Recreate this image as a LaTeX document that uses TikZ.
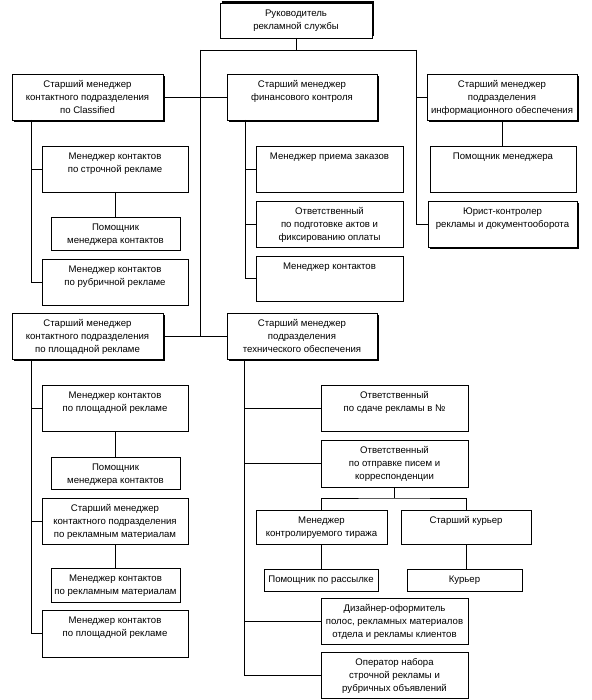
\documentclass[tikz,border=0pt]{standalone}
\usepackage{fontspec}
\setmainfont{Liberation Sans}
\usetikzlibrary{shadows}
\tikzset{
  bx/.style={draw, fill=white, line width=0.75pt, inner sep=0pt, outer sep=0pt,
    font=\fontsize{9.6}{12.8}\selectfont},
  shd/.style={drop shadow={shadow xshift=1.6pt, shadow yshift=-1.6pt, fill=black, opacity=1}},
  shdup/.style={drop shadow={shadow xshift=1.6pt, shadow yshift=1.6pt, fill=black, opacity=1}},
  ln/.style={line width=0.75pt}
}
\newcommand\bx[7][]{\node[bx,anchor=north west,#1] (#2) at (#3,#4)
  {\parbox[c][\dimexpr#6pt-#4pt\relax][t]{\dimexpr#5pt-#3pt\relax}{\centering\vspace*{4.5pt}\strut#7\par}};}
\begin{document}
\begin{tikzpicture}[x=1pt,y=-1pt]
\useasboundingbox (0,0) rectangle (591,700);
% top level
\bx[shdup]{top}{220}{3}{372}{38}{Руководитель\\рекламной службы}
\bx[shd]{classif}{12}{74}{163}{120}{Старший менеджер\\контактного подразделения\\по Classified}
\bx[shd]{fin}{227}{74}{377}{120}{Старший менеджер\\финансового контроля}
\bx[shd]{info}{427}{74}{577}{120}{Старший менеджер\\подразделения\\информационного обеспечения}
\bx{pom}{430}{146}{576}{192}{Помощник менеджера}
\bx[shd]{jur}{428}{201}{577}{247}{Юрист-контролер\\рекламы и документооборота}
\bx{stroch}{42}{146}{188}{192}{Менеджер контактов\\по строчной рекламе}
\bx{pomkA}{51}{217}{180}{250}{Помощник\\менеджера контактов}
\bx{rubr}{42}{259}{188}{305}{Менеджер контактов\\по рубричной рекламе}
\bx{priem}{256}{146}{403}{192}{Менеджер приема заказов}
\bx{akt}{256}{201}{403}{247}{Ответственный\\по подготовке актов и\\фиксированию оплаты}
\bx{mk}{256}{256}{403}{301}{Менеджер контактов}
\bx[shd]{plosh}{12}{313}{163}{359}{Старший менеджер\\контактного подразделения\\по площадной рекламе}
\bx[shd]{tech}{227}{313}{377}{359}{Старший менеджер\\подразделения\\технического обеспечения}
\bx{mkpA}{42}{385}{188}{431}{Менеджер контактов\\по площадной рекламе}
\bx{pomkB}{51}{457}{180}{489}{Помощник\\менеджера контактов}
\bx{smrm}{42}{498}{188}{544}{Старший менеджер\\контактного подразделения\\по рекламным материалам}
\bx{mkrm}{51}{568}{180}{602}{Менеджер контактов\\по рекламным материалам}
\bx{mkpB}{42}{610}{188}{657}{Менеджер контактов\\по площадной рекламе}
\bx{sdacha}{321}{385}{468}{431}{Ответственный\\по сдаче рекламы в №}
\bx{otpr}{321}{440}{468}{487}{Ответственный\\по отправке писем и\\корреспонденции}
\bx{tir}{256}{510}{387}{544}{Менеджер\\контролируемого тиража}
\bx{stkur}{401}{510}{531}{544}{Старший курьер}
\bx{pras}{264}{569}{378}{591}{Помощник по рассылке}
\bx{kur}{407}{569}{522}{591}{Курьер}
\bx{diz}{321}{598}{468}{644}{Дизайнер-оформитель\\полос, рекламных материалов\\отдела и рекламы клиентов}
\bx{oper}{321}{652}{468}{698}{Оператор набора\\строчной рекламы и\\рубричных объявлений}
% connectors
\coordinate (busL) at (200,50);
\coordinate (busR) at (416,50);
\draw[ln] (busL) -- (busR);
\draw[ln] (top.south) -- (top.south |- busL);
\draw[ln] (busL) |- (plosh.east);
\draw[ln] (plosh.east) -- (tech.west);
\draw[ln] (classif.east) -- (fin.west);
\draw[ln] (busR) |- (jur.west);
\draw[ln] (busR |- info.west) -- (info.west);
\draw[ln] (info.south) -- (info.south |- pom.north);
% classified branch
\coordinate (cA) at ([xshift=19pt]classif.south west);
\draw[ln] (cA) |- (rubr.west);
\draw[ln] (cA |- stroch.west) -- (stroch.west);
\draw[ln] (stroch.south) -- (stroch.south |- pomkA.north);
% finance branch
\coordinate (cB) at ([xshift=18pt]fin.south west);
\draw[ln] (cB) |- (mk.west);
\draw[ln] (cB |- priem.west) -- (priem.west);
\draw[ln] (cB |- akt.west) -- (akt.west);
% plosh branch
\coordinate (cC) at ([xshift=19pt]plosh.south west);
\draw[ln] (cC) |- (mkpB.west);
\draw[ln] (cC |- mkpA.west) -- (mkpA.west);
\draw[ln] (cC |- smrm.west) -- (smrm.west);
\draw[ln] (mkpA.south) -- (mkpA.south |- pomkB.north);
\draw[ln] (smrm.south) -- (smrm.south |- mkrm.north);
% tech branch
\coordinate (cD) at ([xshift=17pt]tech.south west);
\draw[ln] (cD) |- (oper.west);
\draw[ln] (cD |- sdacha.west) -- (sdacha.west);
\draw[ln] (cD |- otpr.west) -- (otpr.west);
\draw[ln] (cD |- diz.west) -- (diz.west);
\draw[ln] (otpr.south) -- ++(0,11) coordinate (bT);
\draw[ln] (tir.north) |- (bT) -| (stkur.north);
\draw[ln] (tir.south) -- (tir.south |- pras.north);
\draw[ln] (stkur.south) -- (stkur.south |- kur.north);
\end{tikzpicture}
\end{document}
